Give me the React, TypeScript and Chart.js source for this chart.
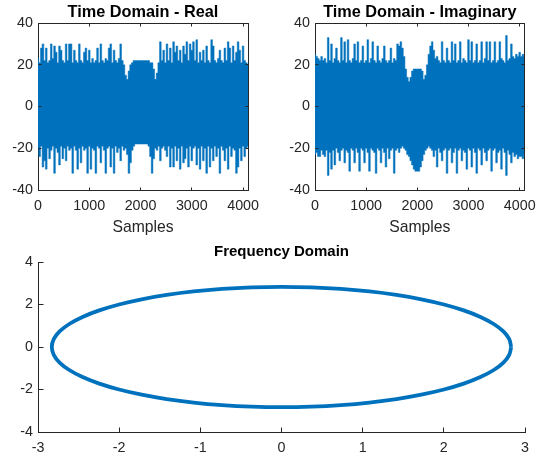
import React, { useEffect, useRef } from "react";
import { Chart, registerables } from "chart.js";

Chart.register(...registerables);

// ---- signal data -----------------------------------------------------------
// The 4096-sample time-domain traces are stored as per-bin extremes:
// each bin covers BIN samples and holds its largest and smallest value.
const SAMPLE_COUNT = 4096;
const BIN = 32;

const realHi = [
  23, 21, 28, 30, 22, 28, 21, 22, 30, 23, 29, 26, 21, 29, 27, 22,
  21, 30, 22, 30, 30, 21, 27, 22, 21, 30, 22, 21, 26, 28, 22, 27,
  21, 23, 21, 22, 28, 21, 30, 22, 21, 23, 22, 28, 30, 21, 27, 22,
  21, 23, 30, 22, 20, 15, 13, 17, 20, 21, 22, 22, 22, 22, 22, 22,
  22, 22, 22, 22, 21, 21, 18, 13, 16, 21, 31, 22, 27, 21, 30, 22,
  28, 21, 31, 26, 29, 22, 27, 21, 29, 25, 31, 22, 30, 27, 31, 22,
  32, 21, 26, 22, 27, 21, 29, 22, 21, 32, 29, 22, 21, 23, 27, 22,
  21, 28, 22, 31, 28, 21, 29, 22, 26, 31, 27, 21, 29, 22, 21, 20,
];

const realLo = [
  -20, -24, -19, -29, -26, -30, -20, -25, -21, -19, -32, -20, -22, -28, -19, -25,
  -20, -26, -19, -21, -20, -32, -19, -21, -30, -20, -27, -19, -21, -20, -32, -19,
  -30, -20, -21, -32, -19, -20, -27, -19, -21, -32, -20, -19, -29, -20, -32, -19,
  -22, -20, -26, -19, -21, -20, -23, -32, -27, -21, -19, -18, -18, -18, -18, -18,
  -18, -18, -18, -19, -24, -32, -25, -20, -21, -19, -26, -20, -19, -21, -24, -19,
  -29, -20, -29, -19, -26, -20, -30, -19, -27, -25, -20, -29, -19, -26, -20, -19,
  -28, -20, -30, -19, -26, -20, -32, -19, -29, -20, -26, -19, -24, -20, -32, -19,
  -21, -26, -20, -30, -19, -24, -20, -21, -32, -29, -20, -26, -19, -24, -20, -19,
];

const imagHi = [
  25, 24, 23, 22, 24, 22, 23, 21, 33, 22, 30, 21, 23, 28, 22, 21,
  33, 22, 31, 21, 32, 22, 21, 23, 30, 22, 31, 21, 22, 29, 21, 22,
  32, 21, 23, 31, 22, 21, 29, 22, 21, 23, 29, 22, 21, 22, 28, 21,
  23, 22, 30, 29, 31, 28, 24, 18, 14, 12, 14, 17, 18, 18, 18, 18,
  18, 17, 13, 15, 20, 25, 29, 31, 27, 23, 24, 22, 21, 31, 22, 21,
  28, 22, 21, 31, 22, 30, 21, 22, 31, 21, 23, 22, 21, 32, 22, 31,
  21, 22, 30, 21, 22, 31, 21, 23, 31, 22, 31, 21, 22, 31, 21, 22,
  31, 23, 22, 21, 34, 22, 23, 30, 24, 23, 25, 24, 26, 24, 25, 24,
];

const imagLo = [
  -23, -22, -24, -24, -21, -23, -24, -21, -33, -22, -30, -21, -28, -20, -22, -26,
  -21, -20, -27, -21, -22, -31, -20, -21, -27, -20, -22, -31, -20, -21, -27, -20,
  -22, -31, -20, -21, -22, -32, -20, -21, -27, -20, -22, -29, -20, -25, -21, -20,
  -32, -21, -20, -22, -20, -19, -20, -21, -23, -24, -26, -28, -30, -31, -31, -31,
  -29, -26, -23, -21, -20, -19, -20, -21, -24, -21, -29, -20, -22, -26, -21, -20,
  -32, -21, -20, -27, -22, -20, -32, -21, -20, -26, -21, -22, -30, -20, -21, -29,
  -20, -22, -32, -20, -21, -28, -20, -22, -26, -21, -20, -31, -21, -20, -27, -22,
  -21, -30, -20, -22, -33, -21, -23, -27, -22, -24, -23, -25, -24, -24, -25, -23,
];

const sampleTicks = [0, 1000, 2000, 3000, 4000];
const ampTicks = [-40, -20, 0, 20, 40];

// Frequency-domain constellation (real vs imaginary part)
const freqRe = [
  2.83, 2.806, 2.734, 2.615, 2.451, 2.245, 2.001, 1.723, 1.415, 1.083, 0.732, 0.369,
  0, -0.369, -0.732, -1.083, -1.415, -1.723, -2.001, -2.245, -2.451, -2.615, -2.734, -2.806,
  -2.83, -2.806, -2.734, -2.615, -2.451, -2.245, -2.001, -1.723, -1.415, -1.083, -0.732, -0.369,
  0, 0.369, 0.732, 1.083, 1.415, 1.723, 2.001, 2.245, 2.451, 2.615, 2.734, 2.806, 2.83,
];
const freqIm = [
  0, 0.369, 0.732, 1.083, 1.415, 1.723, 2.001, 2.245, 2.451, 2.615, 2.734, 2.806,
  2.83, 2.806, 2.734, 2.615, 2.451, 2.245, 2.001, 1.723, 1.415, 1.083, 0.732, 0.369,
  0, -0.369, -0.732, -1.083, -1.415, -1.723, -2.001, -2.245, -2.451, -2.615, -2.734, -2.806,
  -2.83, -2.806, -2.734, -2.615, -2.451, -2.245, -2.001, -1.723, -1.415, -1.083, -0.732, -0.369, 0,
];
const reTicks = [-3, -2, -1, 0, 1, 2, 3];
const imTicks = [-4, -2, 0, 2, 4];

// ---- styling ---------------------------------------------------------------
const BLUE = "#0072BD";
const AXIS = "#262626";
const FONT = '"Liberation Sans", Arial, Helvetica, sans-serif';
const TICK_SIZE = 14.3;

type AxesOpts = {
  title: string;
  titleSize: number;
  titleY: number;
  xLabel?: string;
  xLabelY?: number;
  xTicks: number[];
  yTicks: number[];
  tickLen: number;
  box: boolean;
};

const align = (v: number) => Math.round(v - 0.5) + 0.5;

// Draws the boxed frame, inward tick marks, title and x label.
function axesDecor(o: AxesOpts) {
  return {
    id: "axesDecor",
    afterDraw(chart: any) {
      const { ctx, chartArea: a, scales } = chart;
      const xs = scales.x;
      const ys = scales.y;
      ctx.save();
      ctx.strokeStyle = AXIS;
      ctx.lineWidth = 1;
      ctx.beginPath();
      const L = align(a.left);
      const R = align(a.right);
      const T = align(a.top);
      const B = align(a.bottom);
      if (o.box) {
        ctx.moveTo(L - 0.5, T);
        ctx.lineTo(R + 0.5, T);
        ctx.moveTo(R, T);
        ctx.lineTo(R, B);
      }
      for (const t of o.xTicks) {
        const p = align(xs.getPixelForValue(t));
        ctx.moveTo(p, B);
        ctx.lineTo(p, B - o.tickLen);
        if (o.box) {
          ctx.moveTo(p, T);
          ctx.lineTo(p, T + o.tickLen);
        }
      }
      for (const t of o.yTicks) {
        const p = align(ys.getPixelForValue(t));
        ctx.moveTo(L, p);
        ctx.lineTo(L + o.tickLen, p);
        if (o.box) {
          ctx.moveTo(R, p);
          ctx.lineTo(R - o.tickLen, p);
        }
      }
      ctx.stroke();

      const cx = (a.left + a.right) / 2;
      ctx.textAlign = "center";
      ctx.textBaseline = "alphabetic";
      ctx.fillStyle = "#000000";
      ctx.font = `bold ${o.titleSize}px ${FONT}`;
      ctx.fillText(o.title, cx, o.titleY);
      if (o.xLabel) {
        ctx.fillStyle = AXIS;
        ctx.font = `${(TICK_SIZE * 1.1).toFixed(2)}px ${FONT}`;
        ctx.fillText(o.xLabel, cx, o.xLabelY);
      }
      ctx.restore();
    },
  };
}

type Frame = {
  yWidth: number;
  xHeight: number;
  padTop: number;
  padRight: number;
};

function scalesFor(
  f: Frame,
  xMin: number,
  xMax: number,
  xTicks: number[],
  yMin: number,
  yMax: number,
  yTicks: number[]
) {
  const tickFont = { family: FONT, size: TICK_SIZE, lineHeight: 1.2 };
  const plain = (v: number | string) => String(v);
  return {
    x: {
      type: "linear",
      position: "bottom",
      min: xMin,
      max: xMax,
      afterBuildTicks: (s: any) => {
        s.ticks = xTicks.map((v) => ({ value: v }));
      },
      afterFit: (s: any) => {
        s.height = f.xHeight;
      },
      grid: { display: false, drawTicks: false, tickLength: 0 },
      border: { display: true, color: AXIS, width: 1 },
      ticks: {
        color: AXIS,
        font: tickFont,
        padding: 7,
        maxRotation: 0,
        autoSkip: false,
        callback: plain,
      },
    },
    y: {
      type: "linear",
      position: "left",
      min: yMin,
      max: yMax,
      afterBuildTicks: (s: any) => {
        s.ticks = yTicks.map((v) => ({ value: v }));
      },
      afterFit: (s: any) => {
        s.width = f.yWidth;
      },
      grid: { display: false, drawTicks: false, tickLength: 0 },
      border: { display: true, color: AXIS, width: 1 },
      ticks: {
        color: AXIS,
        font: tickFont,
        padding: 5,
        autoSkip: false,
        callback: plain,
      },
    },
  };
}

// Bin i is placed so that the first bin sits at sample 0 and the last at the final sample.
function binPoints(values: number[]) {
  const step = SAMPLE_COUNT / (values.length - 1);
  return values.map((v, i) => ({ x: i * step, y: v }));
}

function timeConfig(title: string, hi: number[], lo: number[], frame: Frame): any {
  const common = {
    borderColor: BLUE,
    backgroundColor: BLUE,
    borderWidth: 0.5,
    pointRadius: 0,
    stepped: "middle",
  };
  return {
    type: "line",
    data: {
      datasets: [
        { ...common, data: binPoints(hi), fill: "+1" },
        { ...common, data: binPoints(lo), fill: false },
      ],
    },
    options: {
      responsive: false,
      animation: false,
      events: [],
      layout: { padding: { top: frame.padTop, right: frame.padRight, left: 0, bottom: 0 } },
      plugins: {
        legend: { display: false },
        tooltip: { enabled: false },
        filler: { propagate: false },
      },
      scales: scalesFor(frame, 0, SAMPLE_COUNT, sampleTicks, -40, 40, ampTicks),
    },
    plugins: [
      axesDecor({
        title,
        titleSize: 16.3,
        titleY: 16.5,
        xLabel: "Samples",
        xLabelY: 231.5,
        xTicks: sampleTicks,
        yTicks: ampTicks,
        tickLen: 3,
        box: true,
      }),
    ],
  };
}

function freqConfig(frame: Frame): any {
  return {
    type: "scatter",
    data: {
      datasets: [
        {
          data: freqRe.map((re, i) => ({ x: re, y: freqIm[i] })),
          showLine: true,
          borderColor: BLUE,
          borderWidth: 3.8,
          borderJoinStyle: "round",
          pointRadius: 0,
          tension: 0.3,
          fill: false,
        },
      ],
    },
    options: {
      responsive: false,
      animation: false,
      events: [],
      layout: { padding: { top: frame.padTop, right: frame.padRight, left: 0, bottom: 0 } },
      plugins: { legend: { display: false }, tooltip: { enabled: false } },
      scales: scalesFor(frame, -3, 3, reTicks, -4, 4, imTicks),
    },
    plugins: [
      axesDecor({
        title: "Frequency Domain",
        titleSize: 15,
        titleY: 15.5,
        xTicks: reTicks,
        yTicks: imTicks,
        tickLen: 5,
        box: false,
      }),
    ],
  };
}

function Panel(props: {
  left: number;
  top: number;
  width: number;
  height: number;
  make: () => any;
}) {
  const ref = useRef<HTMLCanvasElement | null>(null);
  useEffect(() => {
    if (!ref.current) return;
    const chart = new Chart(ref.current, props.make());
    return () => chart.destroy();
  }, []);
  return (
    <canvas
      ref={ref}
      width={props.width}
      height={props.height}
      style={{
        position: "absolute",
        left: props.left,
        top: props.top,
        width: props.width,
        height: props.height,
        display: "block",
      }}
    />
  );
}

export default function App() {
  return (
    <div
      style={{
        position: "absolute",
        left: 0,
        top: 0,
        width: 543,
        height: 456,
        background: "#ffffff",
        overflow: "hidden",
      }}
    >
      <Panel
        left={0}
        top={0}
        width={271}
        height={240}
        make={() =>
          timeConfig("Time Domain - Real", realHi, realLo, {
            yWidth: 38,
            xHeight: 50,
            padTop: 23,
            padRight: 23,
          })
        }
      />
      <Panel
        left={271}
        top={0}
        width={272}
        height={240}
        make={() =>
          timeConfig("Time Domain - Imaginary", imagHi, imagLo, {
            yWidth: 44,
            xHeight: 50,
            padTop: 23,
            padRight: 18,
          })
        }
      />
      <Panel
        left={0}
        top={240}
        width={543}
        height={216}
        make={() =>
          freqConfig({
            yWidth: 38,
            xHeight: 24,
            padTop: 22,
            padRight: 18,
          })
        }
      />
    </div>
  );
}
